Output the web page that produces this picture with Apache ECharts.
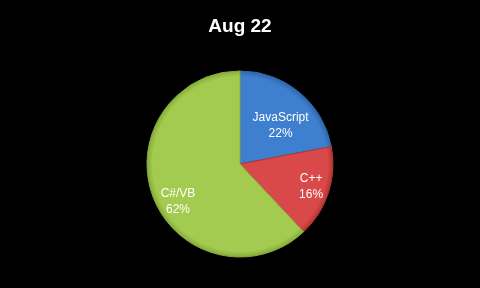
<!DOCTYPE html>
<html><head><meta charset="utf-8">
<script src="https://cdn.jsdelivr.net/npm/echarts@6/dist/echarts.min.js"></script>
<style>html,body{margin:0;padding:0;background:#000;}#c{width:480px;height:288px;}</style>
</head><body><div id="c"></div>
<script>
const title = 'Aug 22';
const categories = ['JavaScript', 'C++', 'C#/VB'];
const values = [22, 16, 62];
const colors = ['#3f7fcf', '#d9494a', '#a3cb50'];
const edgeColors = ['#2f66ab', '#b23533', '#86ad3a'];
const labelShift = [[9, 0], [24, 7], [-16, 19]];

const chart = echarts.init(document.getElementById('c'), null, {renderer: 'canvas'});
chart.setOption({
  backgroundColor: '#000000',
  animation: false,
  title: {
    text: title, left: 'center', top: 12,
    textStyle: {color: '#ffffff', fontSize: 19, fontWeight: 'bold', fontFamily: 'Liberation Sans, Arial'}
  },
  series: [{
    type: 'pie',
    center: [240, 164],
    radius: [0, 93],
    startAngle: 90,
    clockwise: true,
    label: {
      show: true, position: 'inside', color: '#ffffff',
      fontSize: 12, lineHeight: 16, fontFamily: 'Liberation Sans, Arial',
      formatter: p => p.name + '\n' + p.value + '%'
    },
    labelLine: {show: false},
    labelLayout: p => ({dx: labelShift[p.dataIndex][0], dy: labelShift[p.dataIndex][1]}),
    data: categories.map((n, i) => ({
      name: n, value: values[i],
      itemStyle: {
        color: {
          type: 'radial', x: 240, y: 164, r: 93, global: true,
          colorStops: [{offset: 0, color: colors[i]}, {offset: 0.94, color: colors[i]}, {offset: 1, color: edgeColors[i]}]
        },
        borderColor: edgeColors[i], borderWidth: 1
      }
    }))
  }]
});
</script></body></html>
